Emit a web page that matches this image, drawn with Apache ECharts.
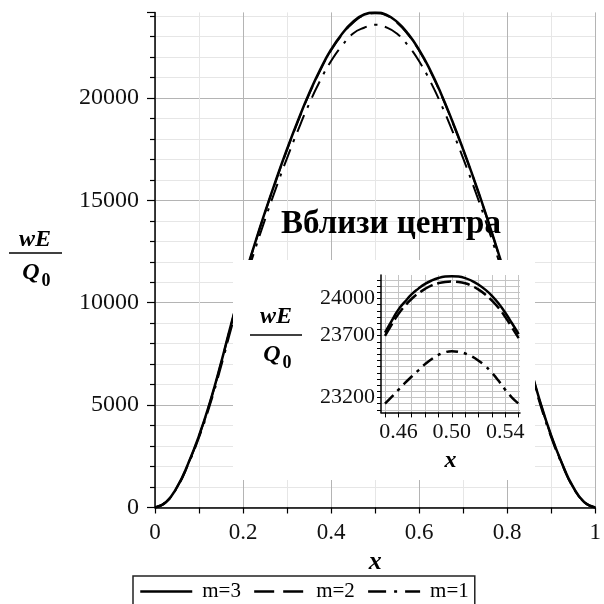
<!DOCTYPE html>
<html lang="ru">
<head>
    <meta charset="UTF-8">
    <title>wE/Q0</title>
    <style>
        html, body { margin: 0; padding: 0; background: #fff; }
        #main { width: 604px; height: 604px; }
    </style>
</head>
<body>
   <div id="main"></div>
    <script src="https://cdn.jsdelivr.net/npm/echarts@6/dist/echarts.min.js"></script>
    <script>
    // основной график: x от 0 до 1, шаг 0.025
    var xs = [0, 0.025, 0.05, 0.075, 0.1, 0.125, 0.15, 0.175, 0.2, 0.225, 0.25, 0.275, 0.3, 0.325, 0.35, 0.375, 0.4, 0.425, 0.45, 0.475,
              0.5, 0.525, 0.55, 0.575, 0.6, 0.625, 0.65, 0.675, 0.7, 0.725, 0.75, 0.775, 0.8, 0.825, 0.85, 0.875, 0.9, 0.925, 0.95, 0.975, 1];
    var m3 = [0, 266, 991, 2128, 3506, 5150, 7061, 9116, 11026, 12767, 14435, 16007, 17506, 18909, 20214, 21375, 22367, 23140, 23721, 24078,
              24180, 24072, 23712, 23130, 22350, 21360, 20195, 18890, 17490, 16000, 14430, 12760, 11020, 9110, 7060, 5150, 3505, 2128, 991, 266, 0];
    var m2 = [0, 265, 989, 2124, 3500, 5141, 7048, 9100, 11006, 12744, 14409, 15978, 17474, 18875, 20177, 21336, 22327, 23098, 23678, 24040,
              24137, 24033, 23680, 23090, 22310, 21322, 20160, 18856, 17458, 15971, 14404, 12737, 11000, 9094, 7047, 5141, 3499, 2124, 989, 265, 0];
    var m1 = [0, 259, 966, 2075, 3418, 5021, 6884, 8888, 10750, 12448, 14074, 15607, 17068, 18436, 19709, 20841, 21808, 22562, 23150, 23430,
              23575, 23455, 23140, 22550, 21790, 20826, 19690, 18418, 17053, 15600, 14070, 12440, 10745, 8882, 6884, 5021, 3417, 2075, 966, 259, 0];

    // вставка "Вблизи центра"
    var xsIn = [0.45, 0.455, 0.46, 0.465, 0.47, 0.475, 0.48, 0.485, 0.49, 0.495, 0.5,
                0.505, 0.51, 0.515, 0.52, 0.525, 0.53, 0.535, 0.54, 0.545, 0.55];
    var m3In = [23725, 23820, 23910, 23975, 24035, 24080, 24118, 24146, 24166, 24177, 24180,
                24177, 24165, 24143, 24112, 24072, 24022, 23960, 23885, 23800, 23712];
    var m2In = [23698, 23790, 23875, 23942, 23998, 24042, 24078, 24106, 24124, 24134, 24137,
                24134, 24123, 24102, 24072, 24033, 23984, 23924, 23850, 23766, 23680];
    var m1In = [23150, 23205, 23262, 23318, 23370, 23420, 23470, 23512, 23545, 23566, 23575,
                23570, 23556, 23532, 23498, 23455, 23400, 23335, 23262, 23200, 23150];

    var inXTicks = [0.45, 0.46, 0.47, 0.48, 0.49, 0.5, 0.51, 0.52, 0.53, 0.54, 0.55];
    var inXLabels = [0.46, 0.5, 0.54];
    var inYTicks = [23100, 23150, 23200, 23250, 23300, 23350, 23400, 23450, 23500, 23550, 23600,
                    23650, 23700, 23750, 23800, 23850, 23900, 23950, 24000, 24050, 24100, 24150];
    var inYLabels = [23200, 23700, 24000];

    var serif = '"Liberation Serif", "Times New Roman", serif';
    var dashM2 = [20, 9];
    var dashM1 = [18, 8, 3, 8];

    function pairs(x, y) {
        return x.map(function (v, i) { return [v, y[i]]; });
    }

    var myChart = echarts.init(document.getElementById('main'));
    var option = {
        animation: false,
        backgroundColor: '#fff',
        title: {
            text: 'Вблизи центра',
            left: 386,
            top: 203,
            textAlign: 'center',
            textStyle: { fontFamily: serif, fontWeight: 'bold', fontSize: 33, color: '#000' }
        },
        legend: {
            left: 133,
            top: 576,
            data: ['m=3', 'm=2', 'm=1'],
            borderColor: '#222',
            borderWidth: 1.5,
            padding: [5, 6, 12, 6],
            itemWidth: 52,
            itemHeight: 14,
            itemGap: 12,
            selectedMode: false,
            itemStyle: { opacity: 0 },
            lineStyle: { width: 2.5 },
            textStyle: { fontFamily: serif, fontSize: 21, color: '#000', padding: [0, 0, 0, 5] }
        },
        grid: [
            { left: 155, top: 12.4, width: 450, height: 495.1 },
            { left: 381, top: 275, width: 139, height: 137.4 }
        ],
        xAxis: [
            {
                type: 'value', gridIndex: 0, min: 0, max: 1, interval: 0.2,
                name: 'x', nameLocation: 'middle', nameGap: 38,
                nameTextStyle: { fontFamily: serif, fontStyle: 'italic', fontWeight: 'bold', fontSize: 26, color: '#000' },
                axisLine: { show: true, onZero: false, lineStyle: { color: '#000', width: 1.5 } },
                axisTick: { show: true, length: 6, lineStyle: { color: '#000', width: 1.2 } },
                minorTick: { show: true, splitNumber: 2, length: 6, lineStyle: { color: '#000', width: 1.2 } },
                axisLabel: {
                    margin: 14, fontFamily: serif, fontSize: 23, color: '#111',
                    formatter: function (v) { return (v === 0 || v === 1) ? String(v) : v.toFixed(1); }
                },
                splitLine: { show: true, lineStyle: { color: '#b4b4b4', width: 1 } },
                minorSplitLine: { show: true, lineStyle: { color: '#e6e6e6', width: 1 } }
            },
            {
                type: 'value', gridIndex: 1, min: 0.447, max: 0.551, z: 60,
                name: 'x', nameLocation: 'middle', nameGap: 36,
                nameTextStyle: { fontFamily: serif, fontStyle: 'italic', fontWeight: 'bold', fontSize: 24, color: '#000' },
                axisLine: { show: true, onZero: false, lineStyle: { color: '#000', width: 1.5 } },
                axisTick: { show: true, length: 5, customValues: inXTicks, lineStyle: { color: '#000', width: 1 } },
                axisLabel: {
                    margin: 9, fontFamily: serif, fontSize: 22, color: '#111', customValues: inXLabels,
                    formatter: function (v) { return v.toFixed(2); }
                },
                splitLine: { show: true, lineStyle: { color: '#c4c4c4', width: 1 } }
            }
        ],
        yAxis: [
            {
                type: 'value', gridIndex: 0, min: 0, max: 24180, interval: 5000,
                axisLine: { show: true, onZero: false, lineStyle: { color: '#000', width: 1.5 } },
                axisTick: { show: true, length: 8, lineStyle: { color: '#000', width: 1.2 } },
                minorTick: { show: true, splitNumber: 5, length: 5, lineStyle: { color: '#000', width: 1.2 } },
                axisLabel: {
                    margin: 16, fontFamily: serif, fontSize: 24, color: '#111', showMaxLabel: false,
                    formatter: function (v) { return String(v); }
                },
                splitLine: { show: true, showMaxLine: false, lineStyle: { color: '#b4b4b4', width: 1 } },
                minorSplitLine: { show: true, lineStyle: { color: '#e6e6e6', width: 1 } }
            },
            {
                type: 'value', gridIndex: 1, min: 23080, max: 24190, z: 60,
                axisLine: { show: true, onZero: false, lineStyle: { color: '#000', width: 1.5 } },
                axisTick: { show: true, length: 4, customValues: inYTicks, lineStyle: { color: '#000', width: 1 } },
                axisLabel: {
                    margin: 6, fontFamily: serif, fontSize: 22, color: '#111', customValues: inYLabels,
                    formatter: function (v) { return String(v); }
                },
                splitLine: { show: true, lineStyle: { color: '#c4c4c4', width: 1 } }
            }
        ],
        graphic: [
            // белая подложка вставки
            { type: 'rect', z: 50, silent: true, shape: { x: 233, y: 260, width: 302, height: 220 }, style: { fill: '#fff' } },
            // подпись оси основного графика wE / Q0
            { type: 'text', z: 100, x: 35, y: 240, style: { text: 'wE', font: 'italic bold 24px ' + serif, fill: '#000', align: 'center', verticalAlign: 'middle' } },
            { type: 'line', z: 100, shape: { x1: 9, y1: 253, x2: 62, y2: 253 }, style: { stroke: '#000', lineWidth: 1.5 } },
            { type: 'text', z: 100, x: 31, y: 273, style: { text: 'Q', font: 'italic bold 24px ' + serif, fill: '#000', align: 'center', verticalAlign: 'middle' } },
            { type: 'text', z: 100, x: 46, y: 281, style: { text: '0', font: 'bold 18px ' + serif, fill: '#000', align: 'center', verticalAlign: 'middle' } },
            // подпись оси вставки
            { type: 'text', z: 100, x: 276, y: 317, style: { text: 'wE', font: 'italic bold 24px ' + serif, fill: '#000', align: 'center', verticalAlign: 'middle' } },
            { type: 'line', z: 100, shape: { x1: 250, y1: 335, x2: 302, y2: 335 }, style: { stroke: '#000', lineWidth: 1.5 } },
            { type: 'text', z: 100, x: 272, y: 355, style: { text: 'Q', font: 'italic bold 24px ' + serif, fill: '#000', align: 'center', verticalAlign: 'middle' } },
            { type: 'text', z: 100, x: 287, y: 363, style: { text: '0', font: 'bold 18px ' + serif, fill: '#000', align: 'center', verticalAlign: 'middle' } }
        ],
        series: [
            { name: 'm=3', type: 'line', xAxisIndex: 0, yAxisIndex: 0, symbol: 'none', smooth: true, z: 5,
              itemStyle: { color: '#000' }, lineStyle: { color: '#000', width: 2.5 }, data: pairs(xs, m3) },
            { name: 'm=2', type: 'line', xAxisIndex: 0, yAxisIndex: 0, symbol: 'none', smooth: true, z: 4,
              itemStyle: { color: '#000' }, lineStyle: { color: '#000', width: 2, type: dashM2 }, data: pairs(xs, m2) },
            { name: 'm=1', type: 'line', xAxisIndex: 0, yAxisIndex: 0, symbol: 'none', smooth: true, z: 3,
              itemStyle: { color: '#000' }, lineStyle: { color: '#000', width: 2, type: dashM1 }, data: pairs(xs, m1) },
            { name: 'm=3', type: 'line', xAxisIndex: 1, yAxisIndex: 1, symbol: 'none', smooth: true, z: 63,
              itemStyle: { color: '#000' }, lineStyle: { color: '#000', width: 2.5 }, data: pairs(xsIn, m3In) },
            { name: 'm=2', type: 'line', xAxisIndex: 1, yAxisIndex: 1, symbol: 'none', smooth: true, z: 62,
              itemStyle: { color: '#000' }, lineStyle: { color: '#000', width: 2.5, type: [14, 5] }, data: pairs(xsIn, m2In) },
            { name: 'm=1', type: 'line', xAxisIndex: 1, yAxisIndex: 1, symbol: 'none', smooth: true, z: 61,
              itemStyle: { color: '#000' }, lineStyle: { color: '#000', width: 2.5, type: [12, 6, 3, 6] }, data: pairs(xsIn, m1In) }
        ]
    };
    myChart.setOption(option);
    </script>
</body>
</html>
